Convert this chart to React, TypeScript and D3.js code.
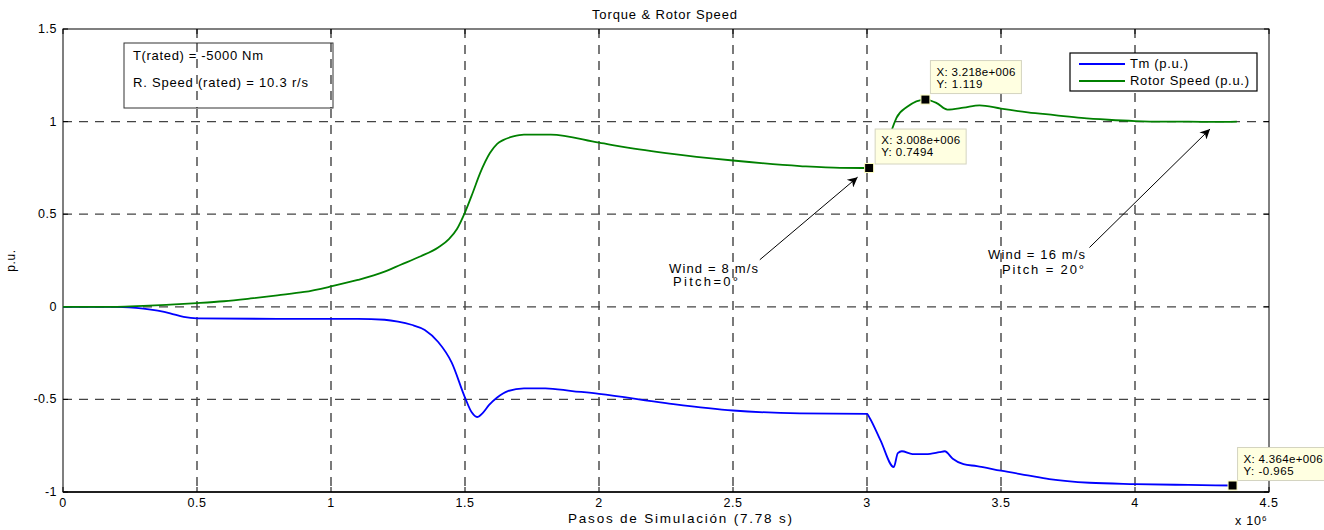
import React from "react";
import * as d3 from "d3";

const xTicks = [0, 0.5, 1, 1.5, 2, 2.5, 3, 3.5, 4, 4.5];
const yTicks = [-1, -0.5, 0, 0.5, 1, 1.5];

// x values in units of 1e6 simulation steps
const tmX = [0, 0.2, 0.3, 0.4, 0.45, 0.5, 0.8, 1.1, 1.2, 1.25, 1.3, 1.35, 1.4, 1.45, 1.5, 1.525, 1.545, 1.565, 1.59, 1.62, 1.66, 1.72, 1.8, 1.9, 2.0, 2.25, 2.5, 2.75, 3.0, 3.01, 3.05, 3.1, 3.115, 3.13, 3.17, 3.22, 3.27, 3.29, 3.32, 3.36, 3.41, 3.5, 3.6, 3.68, 3.83, 4.0, 4.2, 4.364];
const tmY = [0, 0, -0.01, -0.035, -0.055, -0.063, -0.065, -0.065, -0.07, -0.08, -0.097, -0.125, -0.19, -0.3, -0.49, -0.57, -0.595, -0.575, -0.53, -0.49, -0.455, -0.44, -0.44, -0.455, -0.47, -0.52, -0.56, -0.575, -0.578, -0.6, -0.72, -0.865, -0.79, -0.78, -0.795, -0.795, -0.785, -0.78, -0.82, -0.85, -0.86, -0.885, -0.91, -0.93, -0.95, -0.957, -0.962, -0.965];

const speedX1 = [0, 0.2, 0.3, 0.4, 0.5, 0.6, 0.7, 0.8, 0.9, 1.0, 1.1, 1.2, 1.26, 1.33, 1.4, 1.44, 1.47, 1.5, 1.53, 1.556, 1.593, 1.62, 1.642, 1.68, 1.72, 1.82, 2.0, 2.15, 2.25, 2.5, 2.75, 2.9, 3.008];
const speedY1 = [0, 0, 0.005, 0.012, 0.02, 0.03, 0.045, 0.062, 0.08, 0.11, 0.145, 0.19, 0.227, 0.27, 0.32, 0.365, 0.42, 0.51, 0.62, 0.72, 0.83, 0.88, 0.9, 0.92, 0.93, 0.93, 0.886, 0.85, 0.83, 0.79, 0.76, 0.75, 0.7494];
const speedX2 = [3.093, 3.11, 3.15, 3.218, 3.26, 3.3, 3.36, 3.42, 3.5, 3.6, 3.7, 3.8, 3.9, 4.0, 4.1, 4.2, 4.3, 4.38];
const speedY2 = [0.957, 1.02, 1.08, 1.119, 1.1, 1.065, 1.075, 1.088, 1.07, 1.05, 1.035, 1.02, 1.01, 1.003, 1.0, 1.0, 0.998, 1.0];

const tipX = [3.008, 3.218, 4.364];
const tipY = [0.7494, 1.119, -0.965];
const tipLabelX = ["3.008e+006", "3.218e+006", "4.364e+006"];
const tipLabelY = ["0.7494", "1.119", "-0.965"];

const seriesNames = ["Tm (p.u.)", "Rotor Speed (p.u.)"];
const seriesColors = ["#0000ff", "#008000"];

const W = 1324;
const H = 530;
const left = 63, right = 1269, top = 29, bottom = 492;

export default function App() {
  const x = d3.scaleLinear().domain([0, 4.5]).range([left, right]);
  const y = d3.scaleLinear().domain([-1, 1.5]).range([bottom, top]);
  const line = d3.line<[number, number]>().x((d) => x(d[0])).y((d) => y(d[1])).curve(d3.curveMonotoneX);
  const tm = line(tmX.map((v, i) => [v, tmY[i]]));
  const s1 = line(speedX1.map((v, i) => [v, speedY1[i]]));
  const s2 = line(speedX2.map((v, i) => [v, speedY2[i]]));
  const font = "'Liberation Sans', Arial, sans-serif";

  const tipBoxes = [
    { dx: 6, dy: -39, w: 91, h: 35, tl: 79, tl2: 52 },
    { dx: 5, dy: -39, w: 91, h: 33, tl: 79, tl2: 46 },
    { dx: 5, dy: -38, w: 95, h: 33, tl: 79, tl2: 50 },
  ];

  const arrows = [
    { x1: 2.6, y1: 0.254, x2: 2.965, y2: 0.70 },
    { x1: 3.83, y1: 0.32, x2: 4.28, y2: 0.96 },
  ];

  const grid = "#444";

  return (
    <svg width={W} height={H} style={{ position: "absolute", left: 0, top: 0, background: "#fff" }} fontFamily={font}>
      <defs>
        <marker id="ah" viewBox="0 0 10 10" refX="10" refY="5" markerWidth="12" markerHeight="10" markerUnits="userSpaceOnUse" orient="auto">
          <path d="M0,0 L10,5 L0,10 L3,5 Z" fill="#000" />
        </marker>
        <clipPath id="clipR"><rect x={0} y={0} width={W} height={H} /></clipPath>
      </defs>
      <rect x={0} y={0} width={W} height={H} fill="#fff" />
      {xTicks.slice(1, -1).map((t) => (
        <line key={"gx" + t} x1={x(t)} x2={x(t)} y1={top} y2={bottom} stroke="#222" strokeWidth={1.2} strokeDasharray="9,7" />
      ))}
      {yTicks.slice(1, -1).map((t) => (
        <line key={"gy" + t} x1={left} x2={right} y1={y(t)} y2={y(t)} stroke={grid} strokeWidth={1.2} strokeDasharray="9,7" />
      ))}
      {xTicks.map((t) => (
        <g key={"tx" + t}>
          <line x1={x(t)} x2={x(t)} y1={bottom} y2={bottom - 5} stroke="#000" />
          <line x1={x(t)} x2={x(t)} y1={top} y2={top + 5} stroke="#000" />
          <text x={x(t)} y={bottom + 15} fontSize={12.5} letterSpacing={0.5} textAnchor="middle">{t}</text>
        </g>
      ))}
      {yTicks.map((t) => (
        <g key={"ty" + t}>
          <line x1={left} x2={left + 5} y1={y(t)} y2={y(t)} stroke="#000" />
          <line x1={right} x2={right - 5} y1={y(t)} y2={y(t)} stroke="#000" />
          <text x={left - 6} y={y(t) + 4} fontSize={12.5} letterSpacing={0.5} textAnchor="end">{t}</text>
        </g>
      ))}
      <rect x={left} y={top} width={right - left} height={bottom - top} fill="none" stroke="#000" strokeWidth={1} />
      <line x1={left} x2={right} y1={bottom} y2={bottom} stroke="#000" strokeWidth={1.6} />
      <path d={tm || ""} fill="none" stroke={seriesColors[0]} strokeWidth={1.8} />
      <path d={s1 || ""} fill="none" stroke={seriesColors[1]} strokeWidth={1.8} />
      <path d={s2 || ""} fill="none" stroke={seriesColors[1]} strokeWidth={1.8} />
      <text x={592} y={19} fontSize={13} textLength={145} lengthAdjust="spacing">Torque &amp; Rotor Speed</text>
      <text x={568} y={523} fontSize={13.5} textLength={224} lengthAdjust="spacing">Pasos de Simulación (7.78 s)</text>
      <text x={1235} y={525} fontSize={12.5} textLength={26} lengthAdjust="spacing">x 10</text>
      <text x={1262} y={521} fontSize={8}>6</text>
      <text transform={`translate(15,${(top + bottom) / 2}) rotate(-90)`} fontSize={12} letterSpacing={0.6} textAnchor="middle">p.u.</text>
      <rect x={124} y={43} width={209} height={65} fill="#fff" stroke="#333" strokeWidth={1} />
      <line x1={x(0.5)} x2={x(0.5)} y1={43} y2={108} stroke="#222" strokeWidth={1.2} strokeDasharray="9,7" />
      <line x1={x(1)} x2={x(1)} y1={43} y2={108} stroke="#222" strokeWidth={1.2} strokeDasharray="9,7" />
      <text x={133} y={60} fontSize={13} textLength={130} lengthAdjust="spacing">T(rated) = -5000 Nm</text>
      <text x={133} y={87} fontSize={13} textLength={175} lengthAdjust="spacing">R. Speed (rated) = 10.3 r/s</text>
      <rect x={1070} y={53} width={187} height={38} fill="#fff" stroke="#000" strokeWidth={1.2} />
      {seriesNames.map((n, i) => (
        <g key={n}>
          <line x1={1079} x2={1125} y1={64 + i * 17} y2={64 + i * 17} stroke={seriesColors[i]} strokeWidth={1.8} />
          <text x={1130} y={68 + i * 17} fontSize={13} textLength={i === 0 ? 58 : 119} lengthAdjust="spacing">{n}</text>
        </g>
      ))}
      {arrows.map((a, i) => (
        <line key={"ar" + i} x1={x(a.x1)} y1={y(a.y1)} x2={x(a.x2)} y2={y(a.y2)} stroke="#000" strokeWidth={1} markerEnd="url(#ah)" />
      ))}
      <text x={669} y={273} fontSize={13} textLength={89} lengthAdjust="spacing">Wind = 8 m/s</text>
      <text x={673} y={286} fontSize={13} textLength={65} lengthAdjust="spacing">Pitch=0°</text>
      <text x={988} y={259} fontSize={13} textLength={97} lengthAdjust="spacing">Wind = 16 m/s</text>
      <text x={1002} y={274} fontSize={13} textLength={82} lengthAdjust="spacing">Pitch = 20°</text>
      <g clipPath="url(#clipR)">
        {tipX.map((v, i) => {
          const px = x(v), py = y(tipY[i]);
          const b = tipBoxes[i];
          return (
            <g key={"tip" + i}>
              <rect x={px + b.dx} y={py + b.dy} width={b.w} height={b.h} fill="#ffffe1" stroke="#d4d4c0" strokeWidth={1} />
              <text x={px + b.dx + 6} y={py + b.dy + 15} fontSize={11.5} textLength={b.tl} lengthAdjust="spacing">X: {tipLabelX[i]}</text>
              <text x={px + b.dx + 6} y={py + b.dy + 27} fontSize={11.5} textLength={b.tl2} lengthAdjust="spacing">Y: {tipLabelY[i]}</text>
              <rect x={px - 4.5} y={py - 4.5} width={9} height={9} fill="#000" stroke="#ffffc0" strokeWidth={1} />
            </g>
          );
        })}
      </g>
    </svg>
  );
}
